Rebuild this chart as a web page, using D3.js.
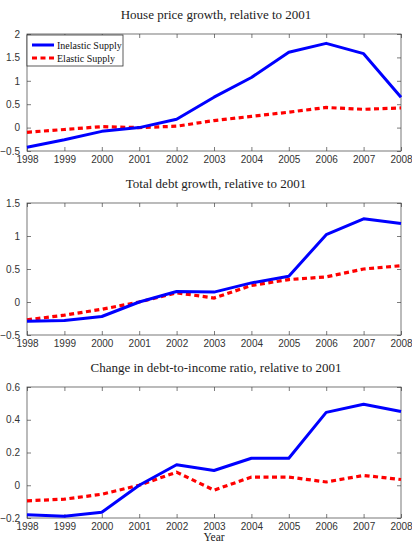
<!DOCTYPE html>
<html>
<head>
<meta charset="utf-8">
<script src="https://cdn.jsdelivr.net/npm/d3@7"></script>
<style>
  body { margin: 0; background: #fff; }
  .title { font-family: "Liberation Serif", "DejaVu Serif", serif; font-size: 13px; fill: #222; }
  .axis text { font-family: "Liberation Sans Narrow", "Liberation Sans", Arial, sans-serif; font-size: 10px; fill: #333; }
  .axis path, .axis line { stroke: #444; }
  .legend text { font-family: "Liberation Serif", serif; font-size: 10px; fill: #111; }
</style>
</head>
<body>
<svg id="chart" width="412" height="545"></svg>
<script>
const years = [1998, 1999, 2000, 2001, 2002, 2003, 2004, 2005, 2006, 2007, 2008];

// House price growth
const priceInelastic = [-0.42, -0.26, -0.08, 0, 0.18, 0.65, 1.07, 1.61, 1.80, 1.58, 0.65];
const priceElastic = [-0.10, -0.04, 0.02, 0, 0.03, 0.15, 0.24, 0.33, 0.43, 0.39, 0.42];

// Total debt growth
const debtInelastic = [-0.29, -0.28, -0.22, 0, 0.16, 0.15, 0.29, 0.39, 1.02, 1.26, 1.19];
const debtElastic = [-0.27, -0.20, -0.11, 0, 0.14, 0.06, 0.25, 0.34, 0.38, 0.50, 0.55];

// Change in debt-to-income ratio
const dtiInelastic = [-0.18, -0.19, -0.165, 0, 0.125, 0.09, 0.165, 0.165, 0.445, 0.495, 0.45];
const dtiElastic = [-0.095, -0.085, -0.055, 0, 0.08, -0.03, 0.05, 0.05, 0.02, 0.06, 0.035];

const panels = [
  { title: "House price growth, relative to 2001", top: 34, bottom: 151, domain: [-0.5, 2],
    ticks: [-0.5, 0, 0.5, 1, 1.5, 2], inel: priceInelastic, el: priceElastic, legend: true },
  { title: "Total debt growth, relative to 2001", top: 203, bottom: 335, domain: [-0.5, 1.5],
    ticks: [-0.5, 0, 0.5, 1, 1.5], inel: debtInelastic, el: debtElastic },
  { title: "Change in debt-to-income ratio, relative to 2001", top: 387, bottom: 518, domain: [-0.2, 0.6],
    ticks: [-0.2, 0, 0.2, 0.4, 0.6], inel: dtiInelastic, el: dtiElastic, xlabel: "Year" }
];

const svg = d3.select("#chart");
const left = 27, right = 401;
const x = d3.scaleLinear().domain([1998, 2008]).range([left, right]);

panels.forEach(p => {
  const y = d3.scaleLinear().domain(p.domain).range([p.bottom, p.top]);
  const g = svg.append("g");
  const h = p.bottom - p.top;

  // box
  g.append("rect").attr("x", left).attr("y", p.top)
    .attr("width", right - left).attr("height", h)
    .attr("fill", "none").attr("stroke", "#555").attr("stroke-width", 0.8);

  const fmt = d => d3.format("")(d);

  // bottom axis with inward ticks, labels below
  const xb = g.append("g").attr("class", "axis").attr("transform", `translate(0,${p.bottom})`)
    .call(d3.axisBottom(x).tickValues(years).tickFormat(d3.format("d")).tickSize(-4).tickPadding(8));
  xb.select(".domain").remove();
  xb.selectAll("text").attr("dy", "0.35em");

  // top ticks
  const xt = g.append("g").attr("class", "axis").attr("transform", `translate(0,${p.top})`)
    .call(d3.axisTop(x).tickValues(years).tickSize(-4).tickFormat(""));
  xt.select(".domain").remove();

  // left axis
  const yl = g.append("g").attr("class", "axis").attr("transform", `translate(${left},0)`)
    .call(d3.axisLeft(y).tickValues(p.ticks).tickFormat(fmt).tickSize(-4).tickPadding(7));
  yl.select(".domain").remove();

  const yr = g.append("g").attr("class", "axis").attr("transform", `translate(${right},0)`)
    .call(d3.axisRight(y).tickValues(p.ticks).tickFormat("").tickSize(-4));
  yr.select(".domain").remove();

  g.selectAll(".axis line").attr("stroke-width", 0.7);

  // title
  g.append("text").attr("class", "title")
    .attr("x", (left + right) / 2 + 2).attr("y", p.top - 15)
    .attr("text-anchor", "middle").text(p.title);

  const line = vals => d3.line().x((d, i) => x(years[i])).y(d => y(d))(vals);

  g.append("path").attr("d", line(p.el)).attr("fill", "none")
    .attr("stroke", "#ff0000").attr("stroke-width", 3.2).attr("stroke-dasharray", "5,3.5");
  g.append("path").attr("d", line(p.inel)).attr("fill", "none")
    .attr("stroke", "#0000ff").attr("stroke-width", 3).attr("stroke-linejoin", "round");

  if (p.xlabel) {
    g.append("text").attr("class", "title").attr("x", (left + right) / 2)
      .attr("y", p.bottom + 23).attr("text-anchor", "middle").style("font-size", "11.5px").text(p.xlabel);
  }

  if (p.legend) {
    const lg = g.append("g").attr("class", "legend");
    lg.append("rect").attr("x", left).attr("y", p.top + 1).attr("width", 96).attr("height", 31)
      .attr("fill", "#fff").attr("stroke", "#333").attr("stroke-width", 0.8);
    const items = [
      { name: "Inelastic Supply", color: "#0000ff", dash: null },
      { name: "Elastic Supply", color: "#ff0000", dash: "5,3.5" }
    ];
    items.forEach((it, i) => {
      const yy = p.top + 11 + i * 13;
      lg.append("line").attr("x1", left + 5).attr("x2", left + 27).attr("y1", yy).attr("y2", yy)
        .attr("stroke", it.color).attr("stroke-width", 3).attr("stroke-dasharray", it.dash);
      lg.append("text").attr("x", left + 30).attr("y", yy + 3.5).text(it.name);
    });
  }
});
</script>
</body>
</html>
